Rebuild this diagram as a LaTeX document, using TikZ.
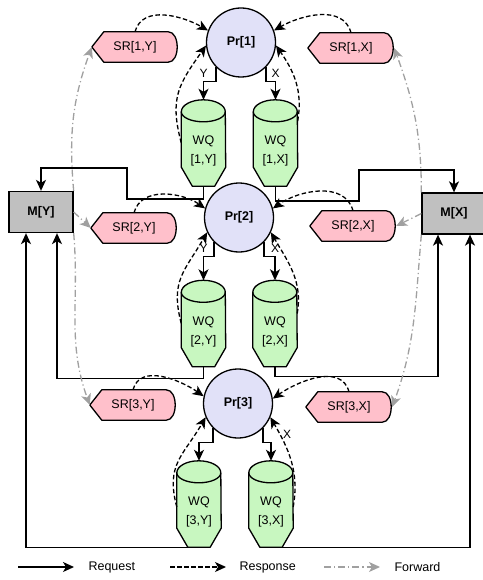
\documentclass[tikz,border=0pt]{standalone}
\usepackage{fontspec}
\setmainfont{Liberation Sans}
\usetikzlibrary{arrows.meta,backgrounds,calc}
\definecolor{prfill}{RGB}{225,225,248}
\definecolor{wqfill}{RGB}{200,247,192}
\definecolor{srfill}{RGB}{255,192,203}
\definecolor{mfill}{RGB}{192,192,192}
\definecolor{fwdgray}{RGB}{160,160,160}
\newcommand\mkwq[4]{%
  \node[wqnode, label={[wqtext]center:{WQ\\{#4}}}] (#1) at (#2,#3) {};
  \begin{scope}[on background layer]
    \path[wqshape] ([yshift=-12pt]#1.north west) arc[start angle=180,end angle=0,x radius=22,y radius=12]
      -- ([yshift=19pt]#1.south east) -- ([xshift=-11pt]#1.south east)
      -- ([xshift=11pt]#1.south west) -- ([yshift=19pt]#1.south west) -- cycle;
    \draw[line width=1.3pt] ([yshift=-12pt]#1.north west) arc[start angle=180,end angle=360,x radius=22,y radius=10];
  \end{scope}
}
\newcommand\mksr[4]{%
  \node[srnode] (#1) at (#2,#3) {#4};
  \begin{scope}[on background layer]
    \path[srshape] (#1.west) -- ([xshift=12pt]#1.north west) -- ([xshift=-10pt]#1.north east)
      .. controls ([xshift=2pt]#1.north east) and ([xshift=2pt]#1.south east) .. ([xshift=-10pt]#1.south east)
      -- ([xshift=12pt]#1.south west) -- cycle;
  \end{scope}
}
\begin{document}
\begin{tikzpicture}[x=1pt,y=1pt,
  every node/.style={font=\fontsize{12.5}{15}\selectfont},
  prnode/.style={circle, draw, line width=1.3pt, fill=prfill, minimum size=69pt, inner sep=0pt,
    font=\fontsize{12.5}{15}\selectfont\bfseries},
  mnode/.style={rectangle, draw, line width=1.3pt, fill=mfill, minimum width=64pt, minimum height=41pt,
    inner sep=0pt, font=\fontsize{12.5}{15}\selectfont\bfseries},
  srnode/.style={rectangle, minimum width=86pt, minimum height=30pt, inner sep=0pt},
  srshape/.style={draw, fill=srfill, line width=1.3pt, line join=round},
  wqnode/.style={rectangle, minimum width=44pt, minimum height=86pt, inner sep=0pt},
  wqshape/.style={draw, fill=wqfill, line width=1.3pt, line join=round},
  wqtext/.style={align=center, font=\fontsize{12.5}{19}\selectfont, yshift=-8pt},
  tip/.style={-{Stealth[length=11pt,width=10pt,inset=3pt]}},
  req/.style={draw, line width=1.4pt, tip},
  resp/.style={draw, line width=1.3pt, dash pattern=on 4.5pt off 2.5pt, tip},
  fwd/.style={draw=fwdgray, line width=1.3pt, dash pattern=on 7pt off 3pt on 1.2pt off 3pt,
    -{Stealth[length=11pt,width=10pt,inset=3pt,fill=fwdgray]}},
  lbl/.style={font=\fontsize{12}{14}\selectfont}
]
\useasboundingbox (0,0) rectangle (482,-580);

% processors
\node[prnode] (P1) at (241,-42.5) {Pr[1]};
\node[prnode] (P2) at (239,-217.5) {Pr[2]};
\node[prnode] (P3) at (238,-403.5) {Pr[3]};

% memories
\node[mnode] (MY) at (41,-212) {M[Y]};
\node[mnode] (MX) at (454,-213.5) {M[X]};

% write queues
\mkwq{WQ1Y}{203.5}{-143}{[1,Y]}
\mkwq{WQ1X}{275.5}{-143}{[1,X]}
\mkwq{WQ2Y}{203.5}{-323.5}{[2,Y]}
\mkwq{WQ2X}{275}{-323.5}{[2,X]}
\mkwq{WQ3Y}{199}{-504}{[3,Y]}
\mkwq{WQ3X}{271}{-504}{[3,X]}

% snoop responses
\mksr{S1Y}{135}{-47}{SR[1,Y]}
\mksr{S1X}{351}{-48}{SR[1,X]}
\mksr{S2Y}{134}{-228}{SR[2,Y]}
\mksr{S2X}{353}{-226}{SR[2,X]}
\mksr{S3Y}{133}{-405}{SR[3,Y]}
\mksr{S3X}{349}{-407}{SR[3,X]}

% requests processor -> write queue
\draw[req] (P1.225) -- ++(0,-14) -| node[above,lbl]{Y} (WQ1Y.north);
\draw[req] (P1.-45) -- ++(0,-14) -| node[above,lbl]{X} (WQ1X.north);
\draw[req] (P2.225) -- ++(0,-14) -| node[above,lbl]{Y} (WQ2Y.north);
\draw[req] (P2.-45) -- ++(0,-14) -| node[above,lbl]{X} (WQ2X.north);
\draw[req] (P3.225) -- ++(0,-14) -| (WQ3Y.north);
\draw[req] (P3.-45) -- ++(0,-14) -| node[above,lbl,xshift=16pt]{X} (WQ3X.north);

% requests write queue -> memory
\draw[req] (WQ1Y.south) |- (127,-199) -- (127,-168) -| (MY.north);
\draw[req] (WQ1X.south) |- (359,-201) -- (359,-170) -| (MX.north);
\draw[req] (WQ2Y.south) -- ++(0,-11.5) -| ([xshift=16pt]MY.south);
\draw[req] (WQ2X.south) -- ++(0,-9.5) -| ([xshift=-16pt]MX.south);
\draw[req] (WQ3Y.south) -| ([xshift=-15pt]MY.south);
\draw[req] (WQ3X.south) -| ([xshift=16pt]MX.south);

% responses
\draw[resp] (S1Y.north) to[out=75,in=150] (P1.160);
\draw[resp] (WQ1Y.west) to[out=105,in=235,looseness=1.2] (P1.185);
\draw[resp] (S1X.north) to[out=105,in=30] (P1.20);
\draw[resp] ([yshift=22pt]WQ1X.east) to[out=80,in=-55] (P1.-5);

\draw[resp] (S2Y.north) to[out=75,in=145] (P2.165);
\draw[resp] (WQ2Y.west) to[out=105,in=240,looseness=1.2] (P2.205);
\draw[resp] (S2X.north) to[out=105,in=35] (P2.15);
\draw[resp] ([yshift=10pt]WQ2X.east) to[out=80,in=-60] (P2.-25);

\draw[resp] (S3Y.north) to[out=75,in=145] (P3.168);
\draw[resp] ([yshift=-3pt]WQ3Y.west) to[out=105,in=240,looseness=1.2] (P3.203);
\draw[resp] (S3X.north) to[out=105,in=35] (P3.8);
\draw[resp] ([yshift=-3pt]WQ3X.east) to[out=80,in=-60] (P3.-23);

% forwards
\draw[fwd] (MY.north east) to[out=95,in=-110] (S1Y.west);
\draw[fwd] (MY.east) -- (S2Y.west);
\draw[fwd] (MY.south east) to[out=-85,in=110] (S3Y.west);
\draw[fwd] (MX.north west) to[out=90,in=-70] (S1X.east);
\draw[fwd] (MX.west) -- (S2X.east);
\draw[fwd] (MX.south west) to[out=-95,in=70] (S3X.east);

% legend
\coordinate (lga) at (18,-567);
\coordinate (lgb) at (74,-567);
\node[anchor=west] (lgt1) at (85,-567) {Request};
\draw[req] (lga) -- (lgb);
\coordinate (lgc) at (170,-567);
\coordinate (lgd) at (226,-567);
\node[anchor=west] (lgt2) at (236,-567) {Response};
\draw[resp] (lgc) -- (lgd);
\coordinate (lge) at (324,-567);
\coordinate (lgf) at (380,-567);
\node[anchor=west] (lgt3) at (391,-567) {Forward};
\draw[fwd] (lge) -- (lgf);
\end{tikzpicture}
\end{document}
